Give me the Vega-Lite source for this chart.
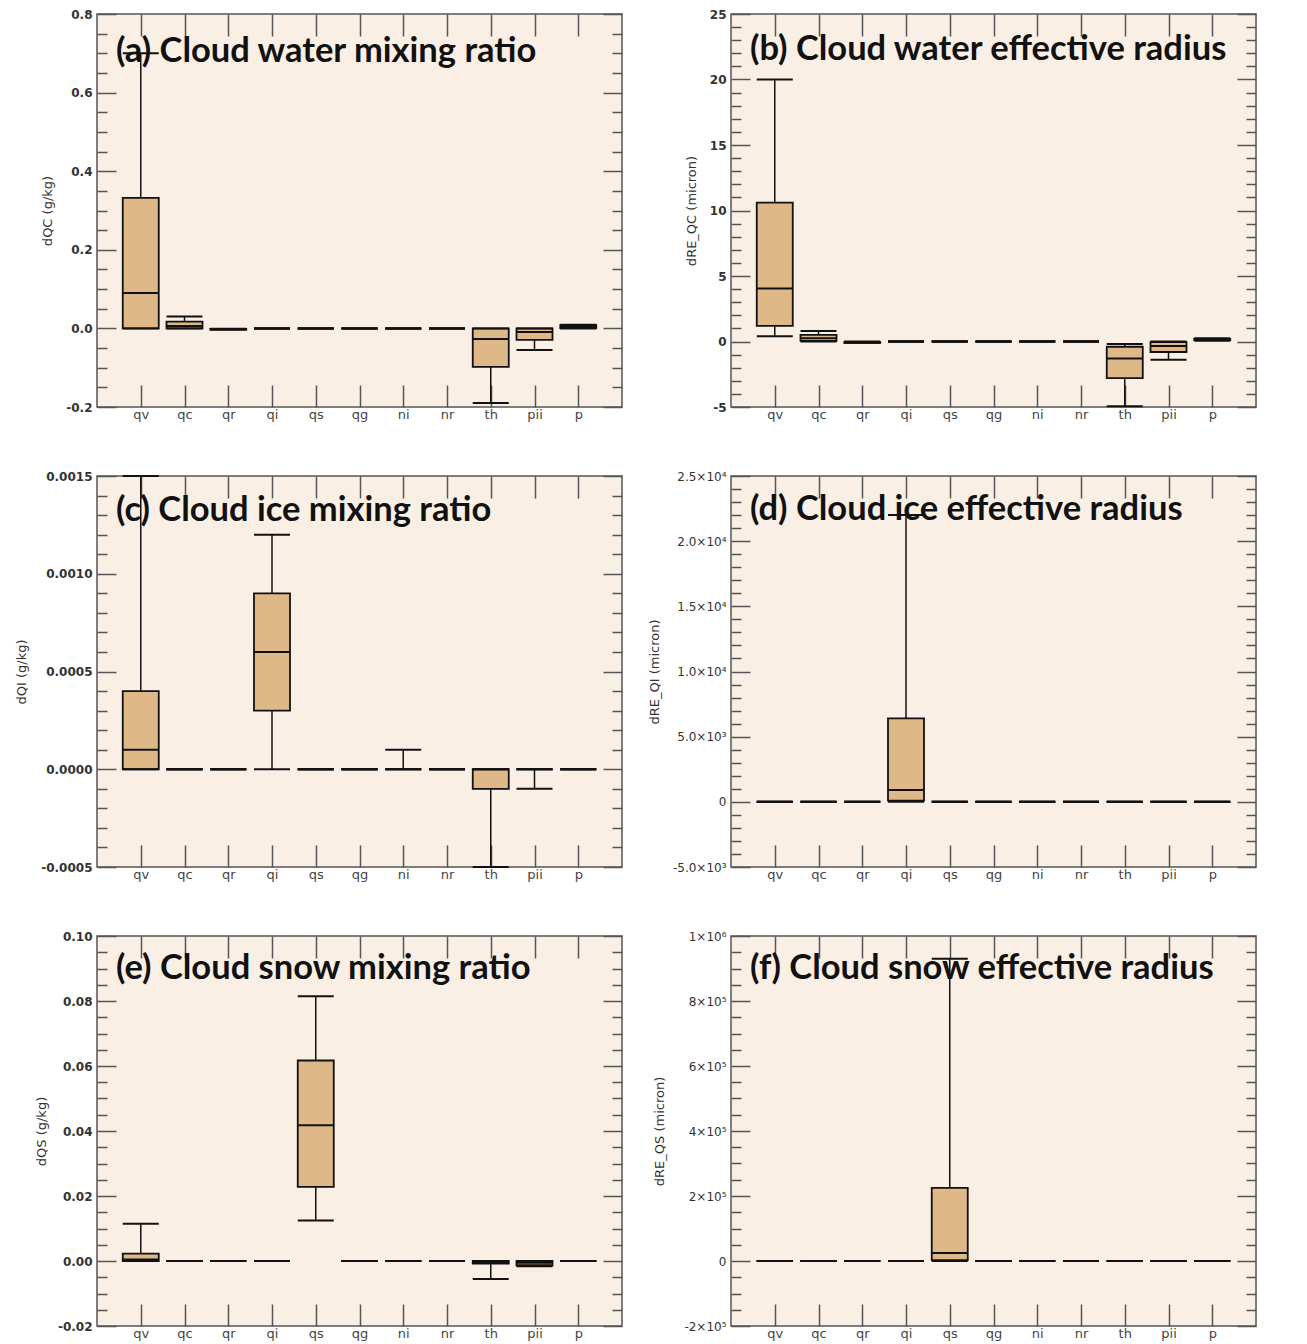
{
  "$schema": "https://vega.github.io/schema/vega-lite/v6.json",
  "background": "white",
  "padding": {"left": 14, "top": 7, "right": 5, "bottom": 5},
  "columns": 2,
  "bounds": "flush",
  "spacing": {"row": 69, "column": 109},
  "datasets": {
    "box": [
      {"panel": "a", "var": "qv", "lo": 0, "q1": 0, "med": 0.09, "q3": 0.332, "hi": 0.70},
      {"panel": "a", "var": "qc", "lo": 0, "q1": 0, "med": 0.006, "q3": 0.017, "hi": 0.03},
      {"panel": "a", "var": "qr", "lo": -0.003, "q1": -0.003, "med": -0.002, "q3": -0.001, "hi": -0.001},
      {"panel": "a", "var": "qi", "lo": 0, "q1": 0, "med": 0, "q3": 0, "hi": 0},
      {"panel": "a", "var": "qs", "lo": 0, "q1": 0, "med": 0, "q3": 0, "hi": 0},
      {"panel": "a", "var": "qg", "lo": 0, "q1": 0, "med": 0, "q3": 0, "hi": 0},
      {"panel": "a", "var": "ni", "lo": 0, "q1": 0, "med": 0, "q3": 0, "hi": 0},
      {"panel": "a", "var": "nr", "lo": 0, "q1": 0, "med": 0, "q3": 0, "hi": 0},
      {"panel": "a", "var": "th", "lo": -0.19, "q1": -0.098, "med": -0.027, "q3": 0, "hi": 0},
      {"panel": "a", "var": "pii", "lo": -0.055, "q1": -0.029, "med": -0.009, "q3": 0, "hi": 0},
      {"panel": "a", "var": "p", "lo": 0, "q1": 0.001, "med": 0.005, "q3": 0.008, "hi": 0.009},

      {"panel": "b", "var": "qv", "lo": 0.4, "q1": 1.2, "med": 4.05, "q3": 10.6, "hi": 20},
      {"panel": "b", "var": "qc", "lo": 0, "q1": 0.05, "med": 0.25, "q3": 0.5, "hi": 0.8},
      {"panel": "b", "var": "qr", "lo": -0.1, "q1": -0.1, "med": -0.05, "q3": -0.05, "hi": 0},
      {"panel": "b", "var": "qi", "lo": 0, "q1": 0, "med": 0, "q3": 0, "hi": 0},
      {"panel": "b", "var": "qs", "lo": 0, "q1": 0, "med": 0, "q3": 0, "hi": 0},
      {"panel": "b", "var": "qg", "lo": 0, "q1": 0, "med": 0, "q3": 0, "hi": 0},
      {"panel": "b", "var": "ni", "lo": 0, "q1": 0, "med": 0, "q3": 0, "hi": 0},
      {"panel": "b", "var": "nr", "lo": 0, "q1": 0, "med": 0, "q3": 0, "hi": 0},
      {"panel": "b", "var": "th", "lo": -4.95, "q1": -2.8, "med": -1.3, "q3": -0.4, "hi": -0.2},
      {"panel": "b", "var": "pii", "lo": -1.4, "q1": -0.8, "med": -0.35, "q3": -0.05, "hi": 0},
      {"panel": "b", "var": "p", "lo": 0.05, "q1": 0.1, "med": 0.15, "q3": 0.2, "hi": 0.25},

      {"panel": "c", "var": "qv", "lo": 0, "q1": 0, "med": 0.0001, "q3": 0.0004, "hi": 0.0015},
      {"panel": "c", "var": "qc", "lo": 0, "q1": 0, "med": 0, "q3": 0, "hi": 0},
      {"panel": "c", "var": "qr", "lo": 0, "q1": 0, "med": 0, "q3": 0, "hi": 0},
      {"panel": "c", "var": "qi", "lo": 0, "q1": 0.0003, "med": 0.0006, "q3": 0.0009, "hi": 0.0012},
      {"panel": "c", "var": "qs", "lo": 0, "q1": 0, "med": 0, "q3": 0, "hi": 0},
      {"panel": "c", "var": "qg", "lo": 0, "q1": 0, "med": 0, "q3": 0, "hi": 0},
      {"panel": "c", "var": "ni", "lo": 0, "q1": 0, "med": 0, "q3": 0, "hi": 0.0001},
      {"panel": "c", "var": "nr", "lo": 0, "q1": 0, "med": 0, "q3": 0, "hi": 0},
      {"panel": "c", "var": "th", "lo": -0.0005, "q1": -0.0001, "med": 0, "q3": 0, "hi": 0},
      {"panel": "c", "var": "pii", "lo": -0.0001, "q1": 0, "med": 0, "q3": 0, "hi": 0},
      {"panel": "c", "var": "p", "lo": 0, "q1": 0, "med": 0, "q3": 0, "hi": 0},

      {"panel": "d", "var": "qv", "lo": 0, "q1": 0, "med": 0, "q3": 0, "hi": 0},
      {"panel": "d", "var": "qc", "lo": 0, "q1": 0, "med": 0, "q3": 0, "hi": 0},
      {"panel": "d", "var": "qr", "lo": 0, "q1": 0, "med": 0, "q3": 0, "hi": 0},
      {"panel": "d", "var": "qi", "lo": 0, "q1": 100, "med": 900, "q3": 6400, "hi": 22000},
      {"panel": "d", "var": "qs", "lo": 0, "q1": 0, "med": 0, "q3": 0, "hi": 0},
      {"panel": "d", "var": "qg", "lo": 0, "q1": 0, "med": 0, "q3": 0, "hi": 0},
      {"panel": "d", "var": "ni", "lo": 0, "q1": 0, "med": 0, "q3": 0, "hi": 0},
      {"panel": "d", "var": "nr", "lo": 0, "q1": 0, "med": 0, "q3": 0, "hi": 0},
      {"panel": "d", "var": "th", "lo": 0, "q1": 0, "med": 0, "q3": 0, "hi": 0},
      {"panel": "d", "var": "pii", "lo": 0, "q1": 0, "med": 0, "q3": 0, "hi": 0},
      {"panel": "d", "var": "p", "lo": 0, "q1": 0, "med": 0, "q3": 0, "hi": 0},

      {"panel": "e", "var": "qv", "lo": 0, "q1": 0, "med": 0.0005, "q3": 0.0023, "hi": 0.0115},
      {"panel": "e", "var": "qc", "lo": 0, "q1": 0, "med": 0, "q3": 0, "hi": 0},
      {"panel": "e", "var": "qr", "lo": 0, "q1": 0, "med": 0, "q3": 0, "hi": 0},
      {"panel": "e", "var": "qi", "lo": 0, "q1": 0, "med": 0, "q3": 0, "hi": 0},
      {"panel": "e", "var": "qs", "lo": 0.0125, "q1": 0.0228, "med": 0.0418, "q3": 0.0617, "hi": 0.0815},
      {"panel": "e", "var": "qg", "lo": 0, "q1": 0, "med": 0, "q3": 0, "hi": 0},
      {"panel": "e", "var": "ni", "lo": 0, "q1": 0, "med": 0, "q3": 0, "hi": 0},
      {"panel": "e", "var": "nr", "lo": 0, "q1": 0, "med": 0, "q3": 0, "hi": 0},
      {"panel": "e", "var": "th", "lo": -0.0055, "q1": -0.0008, "med": -0.0004, "q3": 0, "hi": 0},
      {"panel": "e", "var": "pii", "lo": -0.0016, "q1": -0.0013, "med": -0.0005, "q3": 0, "hi": 0},
      {"panel": "e", "var": "p", "lo": 0, "q1": 0, "med": 0, "q3": 0, "hi": 0},

      {"panel": "f", "var": "qv", "lo": 0, "q1": 0, "med": 0, "q3": 0, "hi": 0},
      {"panel": "f", "var": "qc", "lo": 0, "q1": 0, "med": 0, "q3": 0, "hi": 0},
      {"panel": "f", "var": "qr", "lo": 0, "q1": 0, "med": 0, "q3": 0, "hi": 0},
      {"panel": "f", "var": "qi", "lo": 0, "q1": 0, "med": 0, "q3": 0, "hi": 0},
      {"panel": "f", "var": "qs", "lo": 0, "q1": 3000, "med": 25000, "q3": 225000, "hi": 930000},
      {"panel": "f", "var": "qg", "lo": 0, "q1": 0, "med": 0, "q3": 0, "hi": 0},
      {"panel": "f", "var": "ni", "lo": 0, "q1": 0, "med": 0, "q3": 0, "hi": 0},
      {"panel": "f", "var": "nr", "lo": 0, "q1": 0, "med": 0, "q3": 0, "hi": 0},
      {"panel": "f", "var": "th", "lo": 0, "q1": 0, "med": 0, "q3": 0, "hi": 0},
      {"panel": "f", "var": "pii", "lo": 0, "q1": 0, "med": 0, "q3": 0, "hi": 0},
      {"panel": "f", "var": "p", "lo": 0, "q1": 0, "med": 0, "q3": 0, "hi": 0}
    ]
  },
  "data": {"name": "box"},
  "concat": [
    {
      "width": 525, "height": 393,
      "title": {"text": "(a) Cloud water mixing ratio", "offset": -61},
      "transform": [{"filter": "datum.panel === 'a'"}],
      "layer": [
        {"mark": {"type": "rule", "color": "#111", "strokeWidth": 1.5},
         "encoding": {
           "x": {"field": "var", "type": "nominal", "scale": {"type": "point", "padding": 1, "domain": ["qv","qc","qr","qi","qs","qg","ni","nr","th","pii","p"]}, "axis": {"orient": "bottom", "offset": -22, "tickSize": 22, "title": null}},
           "y": {"field": "lo", "type": "quantitative", "scale": {"domain": [-0.2, 0.8], "nice": false, "zero": false}, "axis": {"orient": "left", "offset": -19, "tickSize": 19, "values": [-0.2, 0, 0.2, 0.4, 0.6, 0.8], "labelExpr": "replace(format(datum.value, '.1f'), '−', '-')", "title": "dQC (g/kg)", "titleX": -69, "titleY": 196.5}},
           "y2": {"field": "hi"}}},
        {"mark": {"type": "bar", "width": 36, "fill": "#DEB887", "stroke": "#111", "strokeWidth": 1.8},
         "encoding": {
           "x": {"field": "var", "type": "nominal", "axis": {"orient": "top", "offset": -22, "tickSize": 22, "labels": false, "title": null}},
           "y": {"field": "q1", "type": "quantitative", "axis": {"orient": "left", "offset": -10, "tickSize": 10, "labels": false, "title": null, "values": [-0.15,-0.1,-0.05,0.05,0.1,0.15,0.25,0.3,0.35,0.45,0.5,0.55,0.65,0.7,0.75]}},
           "y2": {"field": "q3"}}},
        {"mark": {"type": "tick", "color": "#111", "size": 36, "thickness": 2, "opacity": 1},
         "encoding": {
           "x": {"field": "var", "type": "nominal", "axis": null},
           "y": {"field": "med", "type": "quantitative", "axis": {"orient": "right", "offset": -19, "tickSize": 19, "labels": false, "title": null, "values": [-0.2, 0, 0.2, 0.4, 0.6, 0.8]}}}},
        {"mark": {"type": "tick", "color": "#111", "size": 36, "thickness": 2, "opacity": 1},
         "encoding": {
           "x": {"field": "var", "type": "nominal", "axis": null},
           "y": {"field": "lo", "type": "quantitative", "axis": {"orient": "right", "offset": -10, "tickSize": 10, "labels": false, "title": null, "values": [-0.15,-0.1,-0.05,0.05,0.1,0.15,0.25,0.3,0.35,0.45,0.5,0.55,0.65,0.7,0.75]}}}},
        {"mark": {"type": "tick", "color": "#111", "size": 36, "thickness": 2, "opacity": 1},
         "encoding": {
           "x": {"field": "var", "type": "nominal", "axis": null},
           "y": {"field": "hi", "type": "quantitative", "axis": null}}}
      ],
      "resolve": {"axis": {"x": "independent", "y": "independent"}}
    },
    {
      "width": 525, "height": 393,
      "title": {"text": "(b) Cloud  water effective radius", "offset": -59},
      "transform": [{"filter": "datum.panel === 'b'"}],
      "layer": [
        {"mark": {"type": "rule", "color": "#111", "strokeWidth": 1.5},
         "encoding": {
           "x": {"field": "var", "type": "nominal", "scale": {"type": "point", "padding": 1, "domain": ["qv","qc","qr","qi","qs","qg","ni","nr","th","pii","p"]}, "axis": {"orient": "bottom", "offset": -22, "tickSize": 22, "title": null}},
           "y": {"field": "lo", "type": "quantitative", "scale": {"domain": [-5, 25], "nice": false, "zero": false}, "axis": {"orient": "left", "offset": -19, "tickSize": 19, "values": [-5, 0, 5, 10, 15, 20, 25], "labelExpr": "replace(format(datum.value, 'd'), '−', '-')", "title": "dRE_QC (micron)", "titleX": -59, "titleY": 196.5}},
           "y2": {"field": "hi"}}},
        {"mark": {"type": "bar", "width": 36, "fill": "#DEB887", "stroke": "#111", "strokeWidth": 1.8},
         "encoding": {
           "x": {"field": "var", "type": "nominal", "axis": {"orient": "top", "offset": -22, "tickSize": 22, "labels": false, "title": null}},
           "y": {"field": "q1", "type": "quantitative", "axis": {"orient": "left", "offset": -10, "tickSize": 10, "labels": false, "title": null, "values": [-4,-3,-2,-1,1,2,3,4,6,7,8,9,11,12,13,14,16,17,18,19,21,22,23,24]}},
           "y2": {"field": "q3"}}},
        {"mark": {"type": "tick", "color": "#111", "size": 36, "thickness": 2, "opacity": 1},
         "encoding": {
           "x": {"field": "var", "type": "nominal", "axis": null},
           "y": {"field": "med", "type": "quantitative", "axis": {"orient": "right", "offset": -19, "tickSize": 19, "labels": false, "title": null, "values": [-5, 0, 5, 10, 15, 20, 25]}}}},
        {"mark": {"type": "tick", "color": "#111", "size": 36, "thickness": 2, "opacity": 1},
         "encoding": {
           "x": {"field": "var", "type": "nominal", "axis": null},
           "y": {"field": "lo", "type": "quantitative", "axis": {"orient": "right", "offset": -10, "tickSize": 10, "labels": false, "title": null, "values": [-4,-3,-2,-1,1,2,3,4,6,7,8,9,11,12,13,14,16,17,18,19,21,22,23,24]}}}},
        {"mark": {"type": "tick", "color": "#111", "size": 36, "thickness": 2, "opacity": 1},
         "encoding": {
           "x": {"field": "var", "type": "nominal", "axis": null},
           "y": {"field": "hi", "type": "quantitative", "axis": null}}}
      ],
      "resolve": {"axis": {"x": "independent", "y": "independent"}}
    },
    {
      "width": 525, "height": 391,
      "title": {"text": "(c) Cloud ice mixing ratio", "offset": -58},
      "transform": [{"filter": "datum.panel === 'c'"}],
      "layer": [
        {"mark": {"type": "rule", "color": "#111", "strokeWidth": 1.5},
         "encoding": {
           "x": {"field": "var", "type": "nominal", "scale": {"type": "point", "padding": 1, "domain": ["qv","qc","qr","qi","qs","qg","ni","nr","th","pii","p"]}, "axis": {"orient": "bottom", "offset": -22, "tickSize": 22, "title": null}},
           "y": {"field": "lo", "type": "quantitative", "scale": {"domain": [-0.0005, 0.0015], "nice": false, "zero": false}, "axis": {"orient": "left", "offset": -19, "tickSize": 19, "values": [-0.0005, 0, 0.0005, 0.001, 0.0015], "labelExpr": "replace(format(datum.value, '.4f'), '−', '-')", "title": "dQI (g/kg)", "titleX": -95, "titleY": 195.5}},
           "y2": {"field": "hi"}}},
        {"mark": {"type": "bar", "width": 36, "fill": "#DEB887", "stroke": "#111", "strokeWidth": 1.8},
         "encoding": {
           "x": {"field": "var", "type": "nominal", "axis": {"orient": "top", "offset": -22, "tickSize": 22, "labels": false, "title": null}},
           "y": {"field": "q1", "type": "quantitative", "axis": {"orient": "left", "offset": -10, "tickSize": 10, "labels": false, "title": null, "values": [-0.0004,-0.0003,-0.0002,-0.0001,0.0001,0.0002,0.0003,0.0004,0.0006,0.0007,0.0008,0.0009,0.0011,0.0012,0.0013,0.0014]}},
           "y2": {"field": "q3"}}},
        {"mark": {"type": "tick", "color": "#111", "size": 36, "thickness": 2, "opacity": 1},
         "encoding": {
           "x": {"field": "var", "type": "nominal", "axis": null},
           "y": {"field": "med", "type": "quantitative", "axis": {"orient": "right", "offset": -19, "tickSize": 19, "labels": false, "title": null, "values": [-0.0005, 0, 0.0005, 0.001, 0.0015]}}}},
        {"mark": {"type": "tick", "color": "#111", "size": 36, "thickness": 2, "opacity": 1},
         "encoding": {
           "x": {"field": "var", "type": "nominal", "axis": null},
           "y": {"field": "lo", "type": "quantitative", "axis": {"orient": "right", "offset": -10, "tickSize": 10, "labels": false, "title": null, "values": [-0.0004,-0.0003,-0.0002,-0.0001,0.0001,0.0002,0.0003,0.0004,0.0006,0.0007,0.0008,0.0009,0.0011,0.0012,0.0013,0.0014]}}}},
        {"mark": {"type": "tick", "color": "#111", "size": 36, "thickness": 2, "opacity": 1},
         "encoding": {
           "x": {"field": "var", "type": "nominal", "axis": null},
           "y": {"field": "hi", "type": "quantitative", "axis": null}}}
      ],
      "resolve": {"axis": {"x": "independent", "y": "independent"}}
    },
    {
      "width": 525, "height": 391,
      "title": {"text": "(d) Cloud ice effective radius", "offset": -57},
      "transform": [{"filter": "datum.panel === 'd'"}],
      "layer": [
        {"mark": {"type": "rule", "color": "#111", "strokeWidth": 1.5},
         "encoding": {
           "x": {"field": "var", "type": "nominal", "scale": {"type": "point", "padding": 1, "domain": ["qv","qc","qr","qi","qs","qg","ni","nr","th","pii","p"]}, "axis": {"orient": "bottom", "offset": -22, "tickSize": 22, "title": null}},
           "y": {"field": "lo", "type": "quantitative", "scale": {"domain": [-5000, 25000], "nice": false, "zero": false}, "axis": {"orient": "left", "offset": -19, "tickSize": 19, "values": [-5000, 0, 5000, 10000, 15000, 20000, 25000], "labelFontWeight": "normal", "labelExpr": "datum.value == 0 ? '0' : datum.value < 0 ? '-5.0×10³' : datum.value == 5000 ? '5.0×10³' : datum.value == 10000 ? '1.0×10⁴' : datum.value == 15000 ? '1.5×10⁴' : datum.value == 20000 ? '2.0×10⁴' : '2.5×10⁴'", "title": "dRE_QI (micron)", "titleX": -96, "titleY": 195.5}},
           "y2": {"field": "hi"}}},
        {"mark": {"type": "bar", "width": 36, "fill": "#DEB887", "stroke": "#111", "strokeWidth": 1.8},
         "encoding": {
           "x": {"field": "var", "type": "nominal", "axis": {"orient": "top", "offset": -22, "tickSize": 22, "labels": false, "title": null}},
           "y": {"field": "q1", "type": "quantitative", "axis": {"orient": "left", "offset": -10, "tickSize": 10, "labels": false, "title": null, "values": [-4000,-3000,-2000,-1000,1000,2000,3000,4000,6000,7000,8000,9000,11000,12000,13000,14000,16000,17000,18000,19000,21000,22000,23000,24000]}},
           "y2": {"field": "q3"}}},
        {"mark": {"type": "tick", "color": "#111", "size": 36, "thickness": 2, "opacity": 1},
         "encoding": {
           "x": {"field": "var", "type": "nominal", "axis": null},
           "y": {"field": "med", "type": "quantitative", "axis": {"orient": "right", "offset": -19, "tickSize": 19, "labels": false, "title": null, "values": [-5000, 0, 5000, 10000, 15000, 20000, 25000]}}}},
        {"mark": {"type": "tick", "color": "#111", "size": 36, "thickness": 2, "opacity": 1},
         "encoding": {
           "x": {"field": "var", "type": "nominal", "axis": null},
           "y": {"field": "lo", "type": "quantitative", "axis": {"orient": "right", "offset": -10, "tickSize": 10, "labels": false, "title": null, "values": [-4000,-3000,-2000,-1000,1000,2000,3000,4000,6000,7000,8000,9000,11000,12000,13000,14000,16000,17000,18000,19000,21000,22000,23000,24000]}}}},
        {"mark": {"type": "tick", "color": "#111", "size": 36, "thickness": 2, "opacity": 1},
         "encoding": {
           "x": {"field": "var", "type": "nominal", "axis": null},
           "y": {"field": "hi", "type": "quantitative", "axis": null}}}
      ],
      "resolve": {"axis": {"x": "independent", "y": "independent"}}
    },
    {
      "width": 525, "height": 390,
      "title": {"text": "(e) Cloud  snow mixing ratio", "offset": -56},
      "transform": [{"filter": "datum.panel === 'e'"}],
      "layer": [
        {"mark": {"type": "rule", "color": "#111", "strokeWidth": 1.5},
         "encoding": {
           "x": {"field": "var", "type": "nominal", "scale": {"type": "point", "padding": 1, "domain": ["qv","qc","qr","qi","qs","qg","ni","nr","th","pii","p"]}, "axis": {"orient": "bottom", "offset": -22, "tickSize": 22, "title": null}},
           "y": {"field": "lo", "type": "quantitative", "scale": {"domain": [-0.02, 0.1], "nice": false, "zero": false}, "axis": {"orient": "left", "offset": -19, "tickSize": 19, "values": [-0.02, 0, 0.02, 0.04, 0.06, 0.08, 0.1], "labelExpr": "replace(format(datum.value, '.2f'), '−', '-')", "title": "dQS (g/kg)", "titleX": -75, "titleY": 195}},
           "y2": {"field": "hi"}}},
        {"mark": {"type": "bar", "width": 36, "fill": "#DEB887", "stroke": "#111", "strokeWidth": 1.8},
         "encoding": {
           "x": {"field": "var", "type": "nominal", "axis": {"orient": "top", "offset": -22, "tickSize": 22, "labels": false, "title": null}},
           "y": {"field": "q1", "type": "quantitative", "axis": {"orient": "left", "offset": -10, "tickSize": 10, "labels": false, "title": null, "values": [-0.015,-0.01,-0.005,0.005,0.01,0.015,0.025,0.03,0.035,0.045,0.05,0.055,0.065,0.07,0.075,0.085,0.09,0.095]}},
           "y2": {"field": "q3"}}},
        {"mark": {"type": "tick", "color": "#111", "size": 36, "thickness": 2, "opacity": 1},
         "encoding": {
           "x": {"field": "var", "type": "nominal", "axis": null},
           "y": {"field": "med", "type": "quantitative", "axis": {"orient": "right", "offset": -19, "tickSize": 19, "labels": false, "title": null, "values": [-0.02, 0, 0.02, 0.04, 0.06, 0.08, 0.1]}}}},
        {"mark": {"type": "tick", "color": "#111", "size": 36, "thickness": 2, "opacity": 1},
         "encoding": {
           "x": {"field": "var", "type": "nominal", "axis": null},
           "y": {"field": "lo", "type": "quantitative", "axis": {"orient": "right", "offset": -10, "tickSize": 10, "labels": false, "title": null, "values": [-0.015,-0.01,-0.005,0.005,0.01,0.015,0.025,0.03,0.035,0.045,0.05,0.055,0.065,0.07,0.075,0.085,0.09,0.095]}}}},
        {"mark": {"type": "tick", "color": "#111", "size": 36, "thickness": 2, "opacity": 1},
         "encoding": {
           "x": {"field": "var", "type": "nominal", "axis": null},
           "y": {"field": "hi", "type": "quantitative", "axis": null}}}
      ],
      "resolve": {"axis": {"x": "independent", "y": "independent"}}
    },
    {
      "width": 525, "height": 390,
      "title": {"text": "(f) Cloud snow effective radius", "offset": -56},
      "transform": [{"filter": "datum.panel === 'f'"}],
      "layer": [
        {"mark": {"type": "rule", "color": "#111", "strokeWidth": 1.5},
         "encoding": {
           "x": {"field": "var", "type": "nominal", "scale": {"type": "point", "padding": 1, "domain": ["qv","qc","qr","qi","qs","qg","ni","nr","th","pii","p"]}, "axis": {"orient": "bottom", "offset": -22, "tickSize": 22, "title": null}},
           "y": {"field": "lo", "type": "quantitative", "scale": {"domain": [-200000, 1000000], "nice": false, "zero": false}, "axis": {"orient": "left", "offset": -19, "tickSize": 19, "values": [-200000, 0, 200000, 400000, 600000, 800000, 1000000], "labelFontWeight": "normal", "labelExpr": "datum.value == 0 ? '0' : datum.value < 0 ? '-2×10⁵' : datum.value == 1000000 ? '1×10⁶' : format(datum.value / 100000, 'd') + '×10⁵'", "title": "dRE_QS (micron)", "titleX": -91, "titleY": 195}},
           "y2": {"field": "hi"}}},
        {"mark": {"type": "bar", "width": 36, "fill": "#DEB887", "stroke": "#111", "strokeWidth": 1.8},
         "encoding": {
           "x": {"field": "var", "type": "nominal", "axis": {"orient": "top", "offset": -22, "tickSize": 22, "labels": false, "title": null}},
           "y": {"field": "q1", "type": "quantitative", "axis": {"orient": "left", "offset": -10, "tickSize": 10, "labels": false, "title": null, "values": [-150000,-100000,-50000,50000,100000,150000,250000,300000,350000,450000,500000,550000,650000,700000,750000,850000,900000,950000]}},
           "y2": {"field": "q3"}}},
        {"mark": {"type": "tick", "color": "#111", "size": 36, "thickness": 2, "opacity": 1},
         "encoding": {
           "x": {"field": "var", "type": "nominal", "axis": null},
           "y": {"field": "med", "type": "quantitative", "axis": {"orient": "right", "offset": -19, "tickSize": 19, "labels": false, "title": null, "values": [-200000, 0, 200000, 400000, 600000, 800000, 1000000]}}}},
        {"mark": {"type": "tick", "color": "#111", "size": 36, "thickness": 2, "opacity": 1},
         "encoding": {
           "x": {"field": "var", "type": "nominal", "axis": null},
           "y": {"field": "lo", "type": "quantitative", "axis": {"orient": "right", "offset": -10, "tickSize": 10, "labels": false, "title": null, "values": [-150000,-100000,-50000,50000,100000,150000,250000,300000,350000,450000,500000,550000,650000,700000,750000,850000,900000,950000]}}}},
        {"mark": {"type": "tick", "color": "#111", "size": 36, "thickness": 2, "opacity": 1},
         "encoding": {
           "x": {"field": "var", "type": "nominal", "axis": null},
           "y": {"field": "hi", "type": "quantitative", "axis": null}}}
      ],
      "resolve": {"axis": {"x": "independent", "y": "independent"}}
    }
  ],
  "config": {
    "view": {"fill": "#FAEFE4", "stroke": "#555", "strokeWidth": 1.5},
    "title": {"anchor": "start", "frame": "group", "dx": 19, "baseline": "alphabetic", "font": "Lato", "fontSize": 34.5, "fontWeight": "bold", "color": "#111"},
    "axis": {"domain": false, "grid": false, "tickColor": "#555", "tickWidth": 1.5, "labelFont": "DejaVu Sans", "labelColor": "#333", "titleFont": "DejaVu Sans", "titleFontSize": 13, "titleFontWeight": "normal", "titleColor": "#333"},
    "axisY": {"labelFontSize": 12, "labelFontWeight": "bold", "labelPadding": 5, "titleAngle": -90, "titleBaseline": "middle", "titleAlign": "center"},
    "axisX": {"labelFontSize": 13, "labelAngle": 0, "labelPadding": 1, "labelColor": "#444"}
  }
}
